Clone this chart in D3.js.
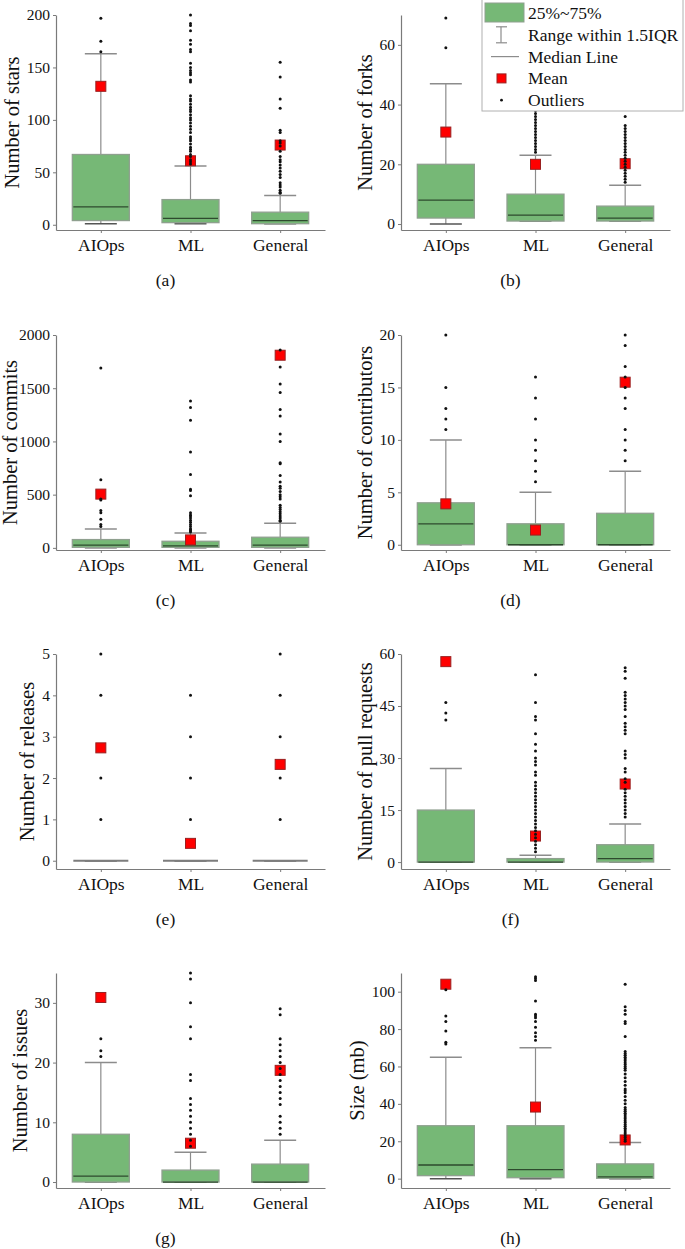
<!DOCTYPE html>
<html>
<head>
<meta charset="utf-8">
<script src="https://cdn.jsdelivr.net/npm/d3@7"></script>
<style>
  body { margin: 0; background: #fff; }
  svg { display: block; font-family: "Liberation Serif", "Times New Roman", serif; }
</style>
</head>
<body>
<svg id="chart" width="685" height="1249"></svg>
<script>
const categories = ['AIOps', 'ML', 'General'];

// per category: [whisker low, q1, median, q3, whisker high, mean]
const stars = [[1, 4, 17, 67, 163, 132], [1, 2, 6, 24, 56, 61], [1, 1, 4, 12, 28, 76]];
const starsOut = [
  [165, 175, 197],
  [58, 60, 62, 65, 67, 70, 72, 74, 77, 80, 82, 84, 88, 91, 94, 97, 100, 102, 105, 108, 110, 112, 115, 118, 120, 123, 136, 138, 143, 145, 147, 150, 154, 165, 167, 172, 176, 185, 190, 192, 200],
  [30, 31, 33, 36, 38, 40, 45, 48, 51, 54, 57, 60, 62, 65, 70, 75, 78, 80, 88, 90, 111, 120, 141, 155]
];

const forks = [[0, 2, 8, 20, 47, 30.8], [1, 1, 3, 10, 23, 20], [1, 1, 2, 6, 13, 20.2]];
const forksOut = [
  [59, 69],
  [24, 25, 26, 27, 28, 29, 30, 31, 32, 33, 34, 35, 36, 37, 38, 40, 42, 45],
  [14, 15, 16, 17, 18, 19, 20, 21, 22, 23, 24, 25, 26, 27, 28, 29, 30, 31, 32, 33, 36]
];

const commits = [[0, 5, 25, 78, 178, 505], [0, 5, 19, 62, 140, 75], [0, 5, 25, 100, 231, 1810]];
const commitsOut = [
  [200, 220, 270, 330, 350, 450, 460, 640, 1690],
  [150, 160, 170, 180, 200, 220, 240, 260, 280, 300, 310, 330, 490, 540, 550, 690, 900, 1200, 1320, 1380],
  [250, 260, 280, 300, 320, 340, 360, 380, 400, 460, 480, 500, 530, 560, 580, 620, 680, 790, 800, 1000, 1070, 1240, 1300, 1460, 1540, 1700, 1860]
];

const contributors = [[0, 0, 2, 4, 10, 3.9], [0, 0, 0, 2, 5, 1.4], [0, 0, 0, 3, 7, 15.5]];
const contributorsOut = [
  [11, 12, 13, 15, 20],
  [6, 7, 8, 9, 10, 12, 14, 16],
  [8, 9, 10, 11, 13, 14, 15, 16, 17, 19, 20]
];

const releases = [[0, 0, 0, 0, 0, 2.73], [0, 0, 0, 0, 0, 0.42], [0, 0, 0, 0, 0, 2.33]];
const releasesOut = [[1, 2, 4, 5], [1, 2, 3, 4], [1, 2, 3, 4, 5]];

const pulls = [[0, 0, 0, 15, 27, 57.8], [0, 0, 0, 1, 2, 7.5], [0, 0, 1, 5, 11, 22.5]];
const pullsOut = [
  [41, 43, 46],
  [3, 4, 5, 6, 7, 8, 9, 10, 11, 12, 13, 14, 15, 16, 17, 18, 19, 20, 21, 22, 23, 25, 26, 28, 29, 30, 32, 34, 37, 41, 42, 46, 54],
  [13, 14, 15, 16, 17, 18, 19, 20, 21, 23, 24, 26, 27, 30, 31, 32, 37, 38, 39, 40, 42, 44, 45, 46, 47, 48, 49, 53, 55, 56]
];

const issues = [[0, 0, 1, 8, 20, 30.9], [0, 0, 0, 2, 5, 6.5], [0, 0, 0, 3, 7, 18.7]];
const issuesOut = [
  [21, 22, 24],
  [6, 7, 8, 9, 10, 11, 12, 13, 14, 17, 18, 24, 26, 30, 34, 35],
  [8, 9, 10, 11, 13, 14, 15, 16, 17, 18, 19, 20, 21, 22, 23, 24, 28, 29]
];

const sizes = [[0, 1.6, 7.3, 28.3, 65, 104], [0, 0.5, 4.8, 28.3, 70, 38.3], [0, 0.2, 0.9, 7.9, 19.3, 20.7]];
const sizesOut = [
  [72, 73, 79, 84, 87, 101],
  [74, 76, 78, 81, 84, 86, 87, 88, 95, 106, 107, 108],
  [20, 21, 22, 23, 24, 25, 26, 27, 28, 29, 30, 31, 32, 33, 34, 35, 36, 37, 38, 40, 42, 44, 46, 47, 48, 50, 52, 54, 56, 58, 59, 60, 61, 62, 63, 64, 65, 66, 67, 68, 76, 83, 84, 88, 90, 92, 104]
];

const legendItems = ['25%~75%', 'Range within 1.5IQR', 'Median Line', 'Mean', 'Outliers'];

const panels = [
  { title: 'Number of stars', caption: '(a)', stats: stars, out: starsOut, domain: [-5, 200], ticks: [0, 50, 100, 150, 200] },
  { title: 'Number of forks', caption: '(b)', stats: forks, out: forksOut, domain: [-2, 70], ticks: [0, 20, 40, 60] },
  { title: 'Number of commits', caption: '(c)', stats: commits, out: commitsOut, domain: [-20, 2000], ticks: [0, 500, 1000, 1500, 2000] },
  { title: 'Number of contributors', caption: '(d)', stats: contributors, out: contributorsOut, domain: [-0.5, 20], ticks: [0, 5, 10, 15, 20] },
  { title: 'Number of releases', caption: '(e)', stats: releases, out: releasesOut, domain: [-0.2, 5], ticks: [0, 1, 2, 3, 4, 5] },
  { title: 'Number of pull requests', caption: '(f)', stats: pulls, out: pullsOut, domain: [-2, 60], ticks: [0, 15, 30, 45, 60] },
  { title: 'Number of issues', caption: '(g)', stats: issues, out: issuesOut, domain: [-1, 35], ticks: [0, 10, 20, 30] },
  { title: 'Size (mb)', caption: '(h)', stats: sizes, out: sizesOut, domain: [-5, 110], ticks: [0, 20, 40, 60, 80, 100] }
];

const svg = d3.select('#chart');

const colX = [56, 401];
const rowY = [15, 335, 654, 973];
const plotW = 269;
const plotH = 215;
const boxW = 57;
const capW = 32;

const boxFill = '#76b876';
const boxStroke = '#8fa08f';
const whiskerColor = '#8c8c8c';
const axisColor = '#7a7a7a';

panels.forEach((p, i) => {
  const left = colX[i % 2];
  const top = rowY[Math.floor(i / 2)];

  const x = d3.scalePoint()
    .domain(categories)
    .range([left, left + plotW])
    .padding(0.5);

  const y = d3.scaleLinear()
    .domain(p.domain)
    .range([top + plotH, top]);

  const g = svg.append('g');

  // axes
  const yAxis = g.append('g')
    .attr('transform', `translate(${left},0)`)
    .call(d3.axisLeft(y).tickValues(p.ticks).tickFormat(d3.format('d'))
      .tickSize(3).tickPadding(3).tickSizeOuter(0));
  yAxis.select('.domain').attr('stroke', axisColor).attr('stroke-width', 1.2);
  yAxis.selectAll('.tick line').attr('stroke', axisColor);
  yAxis.selectAll('.tick text')
    .attr('fill', '#111')
    .style('font-size', '15.5px')
    .style('font-family', '"Liberation Serif", serif');

  const xAxis = g.append('g')
    .attr('transform', `translate(0,${top + plotH})`)
    .call(d3.axisBottom(x).tickSize(3).tickPadding(6).tickSizeOuter(0));
  xAxis.select('.domain').attr('stroke', axisColor).attr('stroke-width', 1.2);
  xAxis.selectAll('.tick line').attr('stroke', axisColor);
  xAxis.selectAll('.tick text')
    .attr('fill', '#111')
    .style('font-size', '17.5px')
    .style('font-family', '"Liberation Serif", serif');

  let maxTickW = 0;
  yAxis.selectAll('.tick text').each(function () {
    maxTickW = Math.max(maxTickW, this.getComputedTextLength());
  });

  // rotated label: baseline sits just left of the tick labels
  const labelX = Math.max(left - 39, left - 14 - maxTickW);
  g.append('text')
    .attr('transform', `translate(${labelX},${top + plotH / 2}) rotate(-90)`)
    .attr('text-anchor', 'middle')
    .attr('fill', '#111')
    .style('font-size', '20.5px')
    .text(p.title);

  g.append('text')
    .attr('x', (left - 50 + left + plotW) / 2)
    .attr('y', top + plotH + 56)
    .attr('text-anchor', 'middle')
    .attr('fill', '#111')
    .style('font-size', '17.5px')
    .text(p.caption);

  const items = g.selectAll('g.box')
    .data(p.stats.map((s, k) => ({ cat: categories[k], s, out: p.out[k] })))
    .enter()
    .append('g')
    .attr('class', 'box');

  // whiskers
  items.append('line')
    .attr('x1', d => x(d.cat)).attr('x2', d => x(d.cat))
    .attr('y1', d => y(d.s[3])).attr('y2', d => y(d.s[4]))
    .attr('stroke', whiskerColor).attr('stroke-width', 1.2);
  items.append('line')
    .attr('x1', d => x(d.cat)).attr('x2', d => x(d.cat))
    .attr('y1', d => y(d.s[1])).attr('y2', d => y(d.s[0]))
    .attr('stroke', whiskerColor).attr('stroke-width', 1.2);
  items.append('line')
    .attr('x1', d => x(d.cat) - capW / 2).attr('x2', d => x(d.cat) + capW / 2)
    .attr('y1', d => y(d.s[4])).attr('y2', d => y(d.s[4]))
    .attr('stroke', whiskerColor).attr('stroke-width', 1.5);
  items.append('line')
    .attr('x1', d => x(d.cat) - capW / 2).attr('x2', d => x(d.cat) + capW / 2)
    .attr('y1', d => y(d.s[0])).attr('y2', d => y(d.s[0]))
    .attr('stroke', '#555').attr('stroke-width', 1.5);

  // box
  items.append('rect')
    .attr('x', d => x(d.cat) - boxW / 2)
    .attr('width', boxW)
    .attr('y', d => y(d.s[3]))
    .attr('height', d => Math.max(0, y(d.s[1]) - y(d.s[3])))
    .attr('fill', boxFill)
    .attr('stroke', boxStroke)
    .attr('stroke-width', 1.3);

  // median
  items.append('line')
    .attr('x1', d => x(d.cat) - boxW / 2 + 1).attr('x2', d => x(d.cat) + boxW / 2 - 1)
    .attr('y1', d => y(d.s[2])).attr('y2', d => y(d.s[2]))
    .attr('stroke', d => (d.s[3] === d.s[1] ? '#7d7d7d' : '#2e4a2e'))
    .attr('stroke-width', d => (d.s[3] === d.s[1] ? 2.2 : 1.3));

  // mean
  items.append('rect')
    .attr('x', d => x(d.cat) - 5)
    .attr('y', d => y(d.s[5]) - 5)
    .attr('width', 10)
    .attr('height', 10)
    .attr('fill', '#ff0000')
    .attr('stroke', '#9a2020')
    .attr('stroke-width', 1);

  // outliers
  items.selectAll('circle')
    .data(d => d.out.map(v => ({ cat: d.cat, v })))
    .enter()
    .append('circle')
    .attr('cx', d => x(d.cat))
    .attr('cy', d => y(d.v))
    .attr('r', 1.5)
    .attr('fill', '#111');
});

// legend
const legend = svg.append('g').attr('transform', 'translate(482,0)');

legend.append('rect')
  .attr('x', 0).attr('y', -1)
  .attr('width', 201).attr('height', 112)
  .attr('fill', '#fff')
  .attr('stroke', '#b0b0b0')
  .attr('stroke-width', 1);

const rowH = 21.8;
const legendY = i => 13 + i * rowH;

legend.append('rect')
  .attr('x', 3).attr('y', 3)
  .attr('width', 39).attr('height', 19)
  .attr('fill', boxFill)
  .attr('stroke', boxStroke);

legend.append('line')
  .attr('x1', 19).attr('x2', 19)
  .attr('y1', legendY(1) - 8).attr('y2', legendY(1) + 8)
  .attr('stroke', whiskerColor).attr('stroke-width', 1.2);
legend.append('line')
  .attr('x1', 14).attr('x2', 25)
  .attr('y1', legendY(1) - 8).attr('y2', legendY(1) - 8)
  .attr('stroke', whiskerColor).attr('stroke-width', 1.2);
legend.append('line')
  .attr('x1', 14).attr('x2', 25)
  .attr('y1', legendY(1) + 8).attr('y2', legendY(1) + 8)
  .attr('stroke', whiskerColor).attr('stroke-width', 1.2);

legend.append('line')
  .attr('x1', 9).attr('x2', 37)
  .attr('y1', legendY(2)).attr('y2', legendY(2))
  .attr('stroke', whiskerColor).attr('stroke-width', 1.2);

legend.append('rect')
  .attr('x', 15).attr('y', legendY(3) - 4.5)
  .attr('width', 9).attr('height', 9)
  .attr('fill', '#ff0000')
  .attr('stroke', '#9a2020');

legend.append('circle')
  .attr('cx', 19.5).attr('cy', legendY(4))
  .attr('r', 1.4)
  .attr('fill', '#111');

legend.selectAll('text')
  .data(legendItems)
  .enter()
  .append('text')
  .attr('x', 46)
  .attr('y', (d, i) => legendY(i) + 6)
  .attr('fill', '#111')
  .style('font-size', '17.5px')
  .text(d => d);
</script>
</body>
</html>
